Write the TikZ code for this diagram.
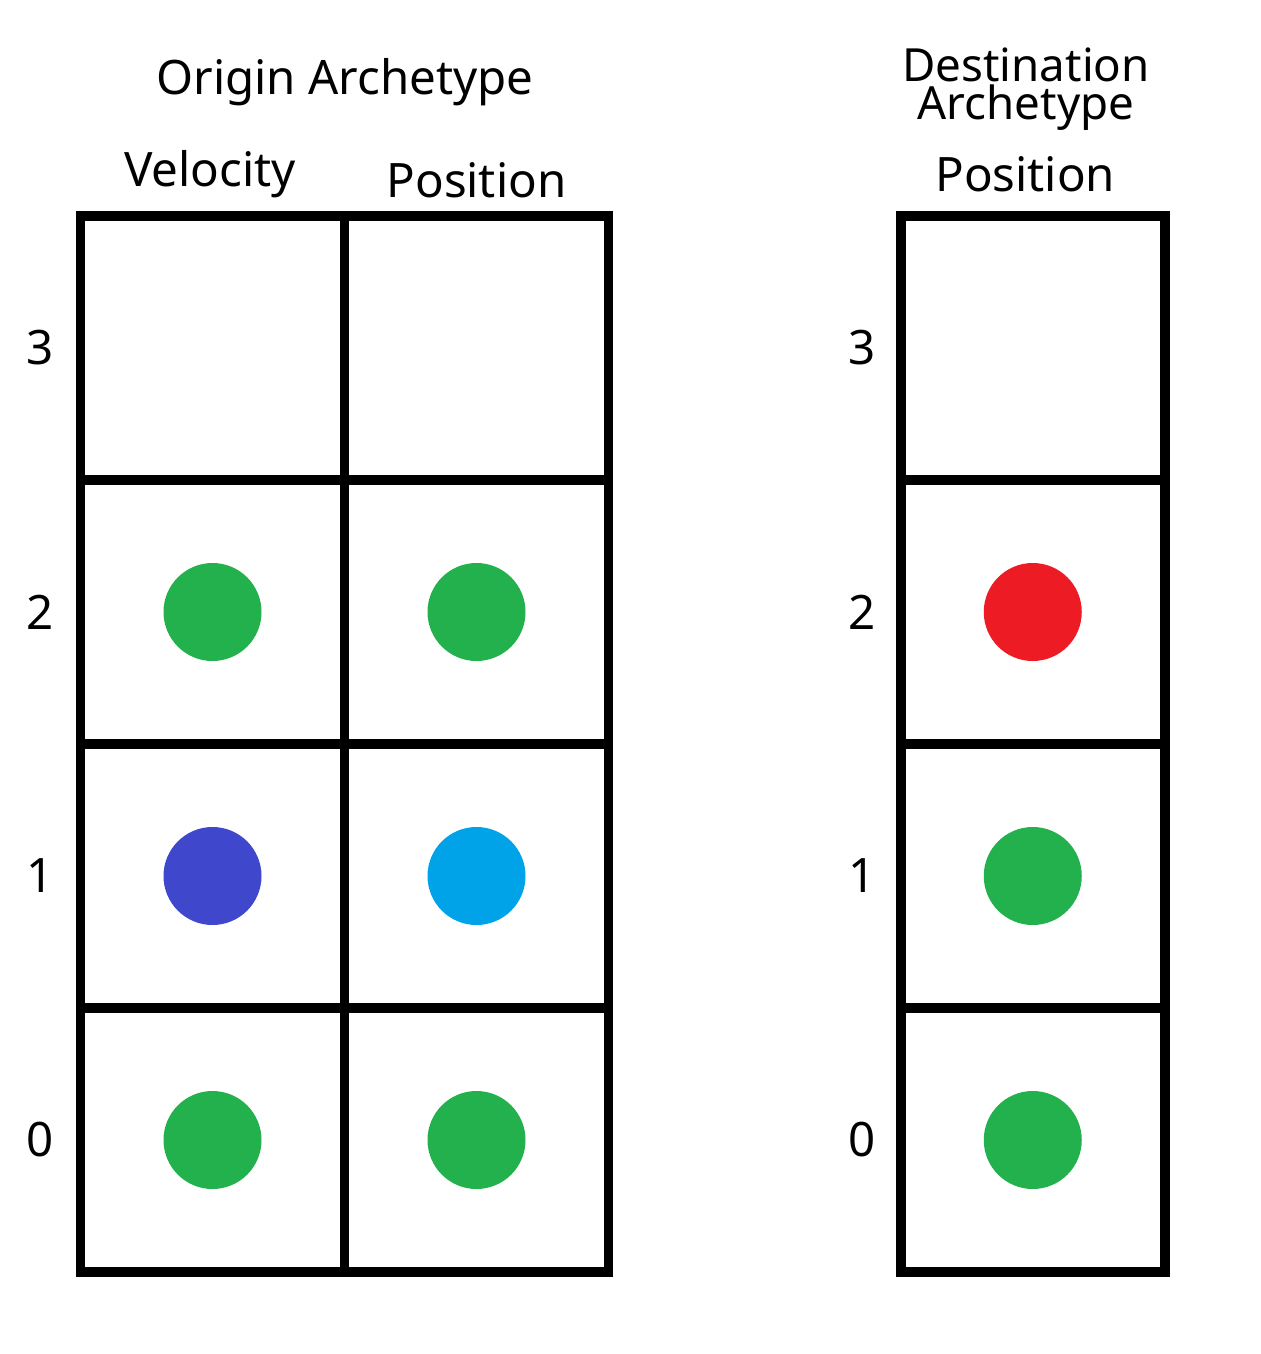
\documentclass[tikz,border=0pt]{standalone}
\usepackage{fontspec}
\setmainfont{Noto Sans}
\usetikzlibrary{matrix}
\definecolor{dotgreen}{RGB}{34,177,76}
\definecolor{dotindigo}{RGB}{63,72,204}
\definecolor{dotcyan}{RGB}{0,162,232}
\definecolor{dotred}{RGB}{237,28,36}

\begin{document}
\begin{tikzpicture}[
    grid/.style={matrix of nodes, nodes in empty cells,
        nodes={draw, line width=0.19cm, outer sep=0.095cm, minimum size=5.28cm, anchor=center},
        column sep=-0.19cm, row sep=-0.19cm},
    dot/.style={circle, inner sep=0pt, minimum size=1.96cm},
    lbl/.style={font=\fontsize{27}{32}\selectfont, anchor=base},
    idx/.style={font=\fontsize{27}{32}\selectfont}]
    \useasboundingbox (0,0) rectangle (25.2,-27.08);
    \matrix[grid] (org) at (6.89,-14.88) {
         & \\
         & \\
         & \\
         & \\
    };
    \matrix[grid] (dst) at (20.655,-14.88) {
        \\
        \\
        \\
        \\
    };
    \node[lbl] (otitle) at (6.9,-1.9) {Origin Archetype};
    \node[lbl, inner sep=0pt, font=\fontsize{26}{30}\selectfont] (dtitle1) at (20.52,-1.64) {Destination};
    \node[lbl, inner sep=0pt, font=\fontsize{26}{30}\selectfont] (dtitle2) at (20.52,-2.4) {Archetype};
    \node[lbl] (vel) at ([xshift=-0.05cm,yshift=0.5cm]org-1-1.north) {Velocity};
    \node[lbl] (pos) at ([yshift=0.28cm]org-1-2.north) {Position};
    \node[lbl] (dpos) at ([xshift=-0.15cm,yshift=0.39cm]dst-1-1.north) {Position};
    \foreach \r/\l in {1/3,2/2,3/1,4/0} {
        \node[idx] (oi\l) at ([xshift=-0.72cm]org-\r-1.west) {\l};
        \node[idx] (di\l) at ([xshift=-0.68cm]dst-\r-1.west) {\l};
    }
    \node[dot, fill=dotgreen] (v2) at (org-2-1) {};
    \node[dot, fill=dotindigo] (v1) at (org-3-1) {};
    \node[dot, fill=dotgreen] (v0) at (org-4-1) {};
    \node[dot, fill=dotgreen] (p2) at (org-2-2) {};
    \node[dot, fill=dotcyan] (p1) at (org-3-2) {};
    \node[dot, fill=dotgreen] (p0) at (org-4-2) {};
    \node[dot, fill=dotred] (q2) at (dst-2-1) {};
    \node[dot, fill=dotgreen] (q1) at (dst-3-1) {};
    \node[dot, fill=dotgreen] (q0) at (dst-4-1) {};
\end{tikzpicture}
\end{document}
